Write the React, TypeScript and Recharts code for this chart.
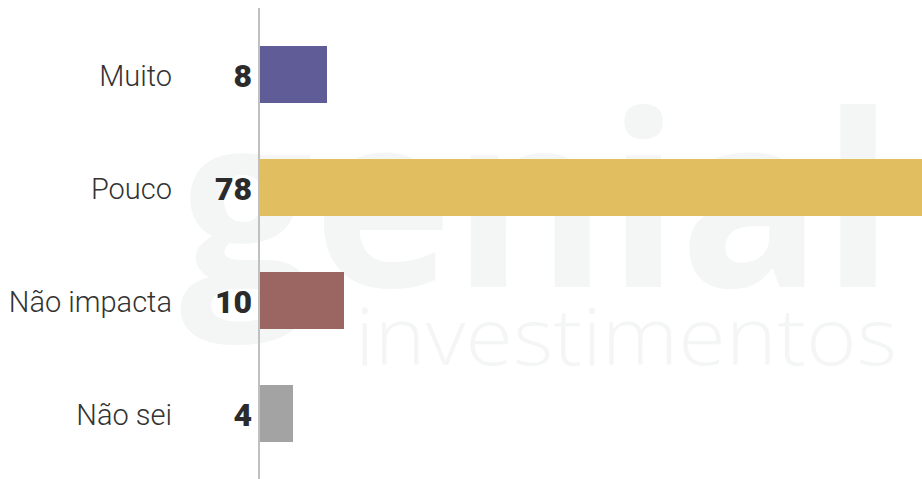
import React from "react";
import { BarChart, Bar, XAxis, YAxis, Cell, LabelList } from "recharts";

const categories = ["Muito", "Pouco", "Não impacta", "Não sei"];
const values = [8, 78, 10, 4];
const colors = ["#605c97", "#e1be5f", "#9b6662", "#a3a3a3"];

const data = categories.map((name, i) => ({ name, value: values[i] }));

const CategoryTick = (props: any) => {
  const { y, payload } = props;
  return (
    <text
      x={172}
      y={y + 11.5}
      textAnchor="end"
      fontSize={29}
      fontWeight={300}
      fontFamily="Roboto, sans-serif"
      fill="#333"
    >
      {payload.value}
    </text>
  );
};

const ValueLabel = (props: any) => {
  const { x, y, height, value } = props;
  return (
    <text
      x={x - 7}
      y={y + height / 2 + 12.5}
      textAnchor="end"
      fontSize={32}
      fontWeight={900}
      fontFamily="Roboto, sans-serif"
      fill="#2b2b2b"
    >
      {value}
    </text>
  );
};

export default function App() {
  return (
    <div style={{ position: "absolute", left: 0, top: 0, width: 922, height: 479, background: "#fff", overflow: "hidden" }}>
      <svg width={922} height={479} style={{ position: "absolute", left: 0, top: 0 }}>
        <text
          x={180}
          y={287}
          fontSize={240}
          fontWeight={700}
          fontFamily="'Open Sans', sans-serif"
          fill="#f4f5f5"
          textLength={714}
          lengthAdjust="spacingAndGlyphs"
        >
          genial
        </text>
        <text
          x={355}
          y={365}
          fontSize={80}
          fontWeight={300}
          fontFamily="'Open Sans', sans-serif"
          fill="#f4f5f5"
          textLength={542}
          lengthAdjust="spacingAndGlyphs"
        >
          investimentos
        </text>
      </svg>
      <div style={{ position: "absolute", left: 0, top: 0 }}>
        <BarChart
          width={922}
          height={479}
          data={data}
          layout="vertical"
          margin={{ top: 8, right: 0, bottom: 0, left: 0 }}
        >
          <XAxis type="number" hide domain={[0, 78]} />
          <YAxis
            type="category"
            dataKey="name"
            width={259}
            axisLine={{ stroke: "#c0c0c0", strokeWidth: 2 }}
            tickLine={false}
            tick={<CategoryTick />}
            padding={{ top: 10, bottom: 9 }}
            interval={0}
          />
          <Bar dataKey="value" barSize={57} isAnimationActive={false}>
            {data.map((d, i) => (
              <Cell key={d.name} fill={colors[i]} />
            ))}
            <LabelList dataKey="value" content={<ValueLabel />} />
          </Bar>
        </BarChart>
      </div>
    </div>
  );
}
